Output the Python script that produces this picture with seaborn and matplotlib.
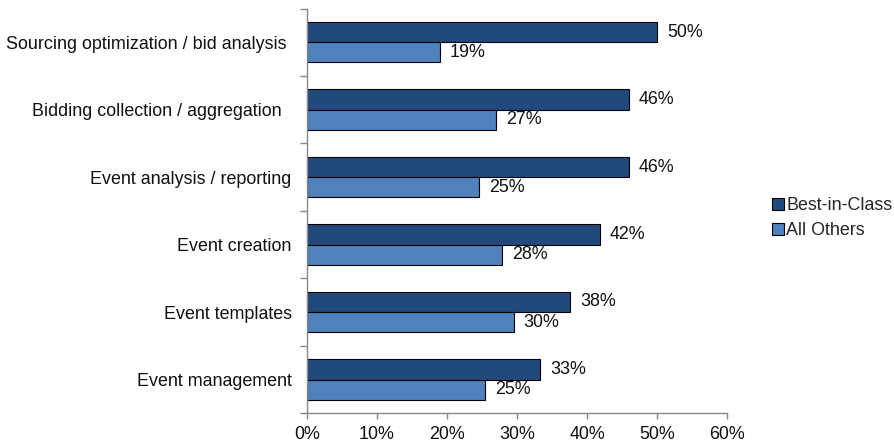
import matplotlib
matplotlib.use("Agg")
import matplotlib.pyplot as plt
import matplotlib.transforms as mtransforms
import seaborn as sns
import pandas as pd
from matplotlib.ticker import FixedLocator, PercentFormatter

categories = [
    "Sourcing optimization / bid analysis",
    "Bidding collection / aggregation",
    "Event analysis / reporting",
    "Event creation",
    "Event templates",
    "Event management",
]
series_names = ["Best-in-Class", "All Others"]
best_in_class = [50.0, 45.9, 45.9, 41.8, 37.6, 33.3]
all_others = [19.0, 27.0, 24.6, 27.9, 29.5, 25.4]
label_bic = ["50%", "46%", "46%", "42%", "38%", "33%"]
label_ao = ["19%", "27%", "25%", "28%", "30%", "25%"]
x_ticks = [0, 10, 20, 30, 40, 50, 60]

colors = ["#22497C", "#4F81BD"]
FS = 12.9

df = pd.DataFrame({
    "category": categories * 2,
    "series": [series_names[0]] * len(categories) + [series_names[1]] * len(categories),
    "value": best_in_class + all_others,
})

sns.set_style("white")
plt.rcParams["font.family"] = ["Liberation Sans", "DejaVu Sans"]

fig = plt.figure(figsize=(8.94, 4.45), dpi=100)
ax = fig.add_axes([307 / 894, 1 - 413.3 / 445, (727.3 - 307) / 894, (413.3 - 8.5) / 445])

sns.barplot(
    data=df, y="category", x="value", hue="series", order=categories,
    hue_order=series_names, palette=colors, saturation=1, orient="h", width=0.6,
    edgecolor="black", linewidth=0.8, ax=ax, legend=True,
)

for container, labels in zip(ax.containers, [label_bic, label_ao]):
    ax.bar_label(container, labels=labels, padding=7, fontsize=FS, color="#111111")

ax.set_xlim(0, 60)
ax.set_ylim(len(categories) - 0.5, -0.5)
ax.set_xticks(x_ticks)
ax.xaxis.set_major_formatter(PercentFormatter(decimals=0))
ax.set_xlabel("")
ax.set_ylabel("")

# category labels at centers, ticks at boundaries
ax.yaxis.set_major_locator(FixedLocator([i - 0.5 for i in range(len(categories) + 1)]))
ax.yaxis.set_major_formatter(plt.NullFormatter())
ax.yaxis.set_minor_locator(FixedLocator(list(range(len(categories)))))
ax.set_yticklabels(categories, minor=True)
ax.tick_params(axis="y", which="major", length=5, width=1, color="#888888", direction="out", left=True)
ax.tick_params(axis="y", which="minor", length=0, pad=11, labelsize=FS, labelcolor="#111111")
ax.tick_params(axis="x", which="major", length=4, width=1, color="#888888", direction="out",
               bottom=True, labelsize=FS, labelcolor="#111111", pad=5)

# small per-label horizontal offsets as in the original
shifts_px = [-5, -10, 0, 0, 0, 0]
for lbl, dx in zip(ax.get_yticklabels(minor=True), shifts_px):
    if dx:
        lbl.set_transform(lbl.get_transform() + mtransforms.ScaledTranslation(dx / 100, 0, fig.dpi_scale_trans))

for s in ["top", "right"]:
    ax.spines[s].set_visible(False)
for s in ["left", "bottom"]:
    ax.spines[s].set_color("#888888")
    ax.spines[s].set_linewidth(1)

leg = ax.legend(
    loc="center left", bbox_to_anchor=(772 / 894, 227 / 445), bbox_transform=fig.transFigure,
    frameon=False, fontsize=FS, handlelength=0.65, handleheight=0.65, handletextpad=0.15,
    labelspacing=0.45, borderaxespad=0, borderpad=0,
)
for h in leg.legend_handles:
    h.set_edgecolor("black")
    h.set_linewidth(0.8)

fig.savefig("out.png", dpi=100)
